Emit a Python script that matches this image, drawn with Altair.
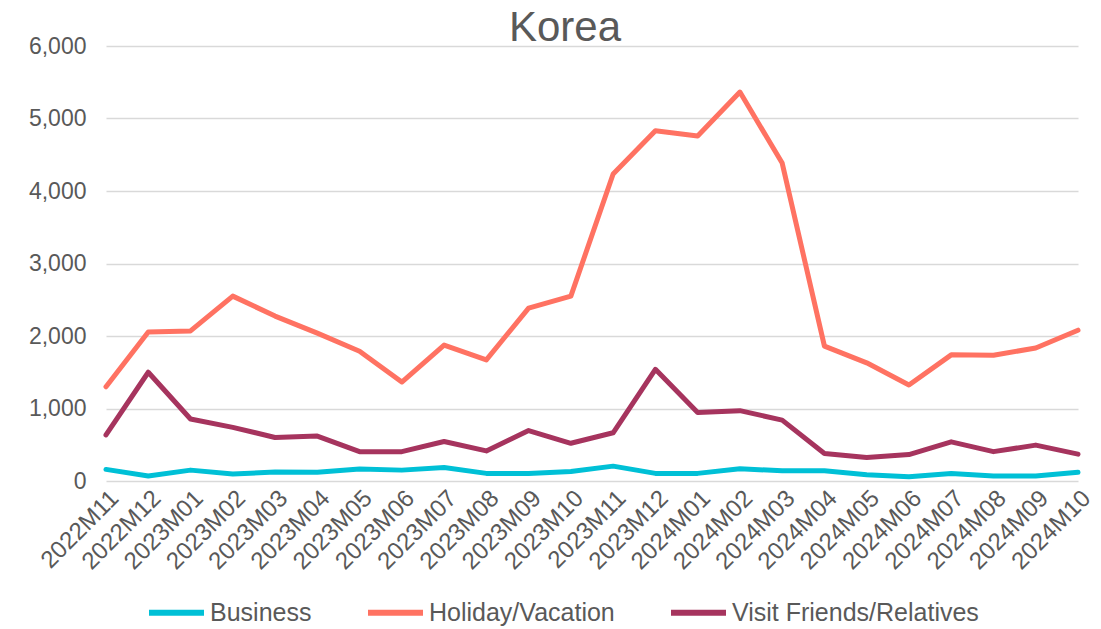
import altair as alt
import pandas as pd

months = ["2022M11", "2022M12", "2023M01", "2023M02", "2023M03", "2023M04",
          "2023M05", "2023M06", "2023M07", "2023M08", "2023M09", "2023M10",
          "2023M11", "2023M12", "2024M01", "2024M02", "2024M03", "2024M04",
          "2024M05", "2024M06", "2024M07", "2024M08", "2024M09", "2024M10"]

business = [160, 70, 150, 95, 125, 120, 165, 150, 185, 105, 105, 130,
            205, 105, 105, 170, 140, 140, 85, 60, 105, 70, 70, 120]
holiday = [1300, 2055, 2070, 2550, 2275, 2040, 1790, 1365, 1875, 1670, 2385, 2550,
           4235, 4830, 4760, 5365, 4385, 1860, 1630, 1325, 1740, 1735, 1835, 2080]
vfr = [635, 1500, 855, 740, 600, 620, 405, 405, 545, 415, 695, 520,
       665, 1540, 945, 970, 840, 380, 325, 365, 540, 405, 495, 370]

series = ["Business", "Holiday/Vacation", "Visit Friends/Relatives"]
colors = ["#00C0D6", "#FF7262", "#A6345E"]

rows = []
for name, vals in zip(series, [business, holiday, vfr]):
    for m, v in zip(months, vals):
        rows.append({"Month": m, "Value": v, "Series": name})
df = pd.DataFrame(rows)

FONT = "Liberation Sans"
GREY = "#595959"

chart = alt.Chart(df).mark_line(strokeWidth=5, strokeJoin="round", strokeCap="round").encode(
    x=alt.X("Month:O", sort=months,
            scale=alt.Scale(type="point", padding=0),
            axis=alt.Axis(title=None, labelAngle=-45, labelFontSize=24, labelColor=GREY,
                          labelFont=FONT, ticks=False, domain=False, grid=False,
                          labelPadding=5)),
    y=alt.Y("Value:Q", scale=alt.Scale(domain=[0, 6000], nice=False),
            axis=alt.Axis(title=None, values=[0, 1000, 2000, 3000, 4000, 5000, 6000],
                          format=",.0f", labelFontSize=23, labelColor=GREY, labelFont=FONT,
                          ticks=False, domain=False, gridColor="#D9D9D9",
                          gridWidth=1.5, labelPadding=20)),
    color=alt.Color("Series:N", sort=series,
                    scale=alt.Scale(domain=series, range=colors),
                    legend=alt.Legend(title=None, orient="none", direction="horizontal",
                                      legendX=40, legendY=536,
                                      symbolType="stroke", symbolSize=3025,
                                      symbolStrokeWidth=6, labelFontSize=25,
                                      labelColor=GREY, labelFont=FONT, labelOffset=3,
                                      columnPadding=44, labelLimit=400)),
).properties(
    width=972, height=435,
    title=alt.TitleParams("Korea", fontSize=42, font=FONT, color=GREY,
                          fontWeight="normal", dx=-27, dy=21, offset=6),
    autosize=alt.AutoSizeParams(type="none"),
    padding={"left": 98, "top": 38, "right": 15, "bottom": 145},
).configure_view(stroke=None)

chart.save("out.html", embed_options={"renderer": "svg", "actions": False})
